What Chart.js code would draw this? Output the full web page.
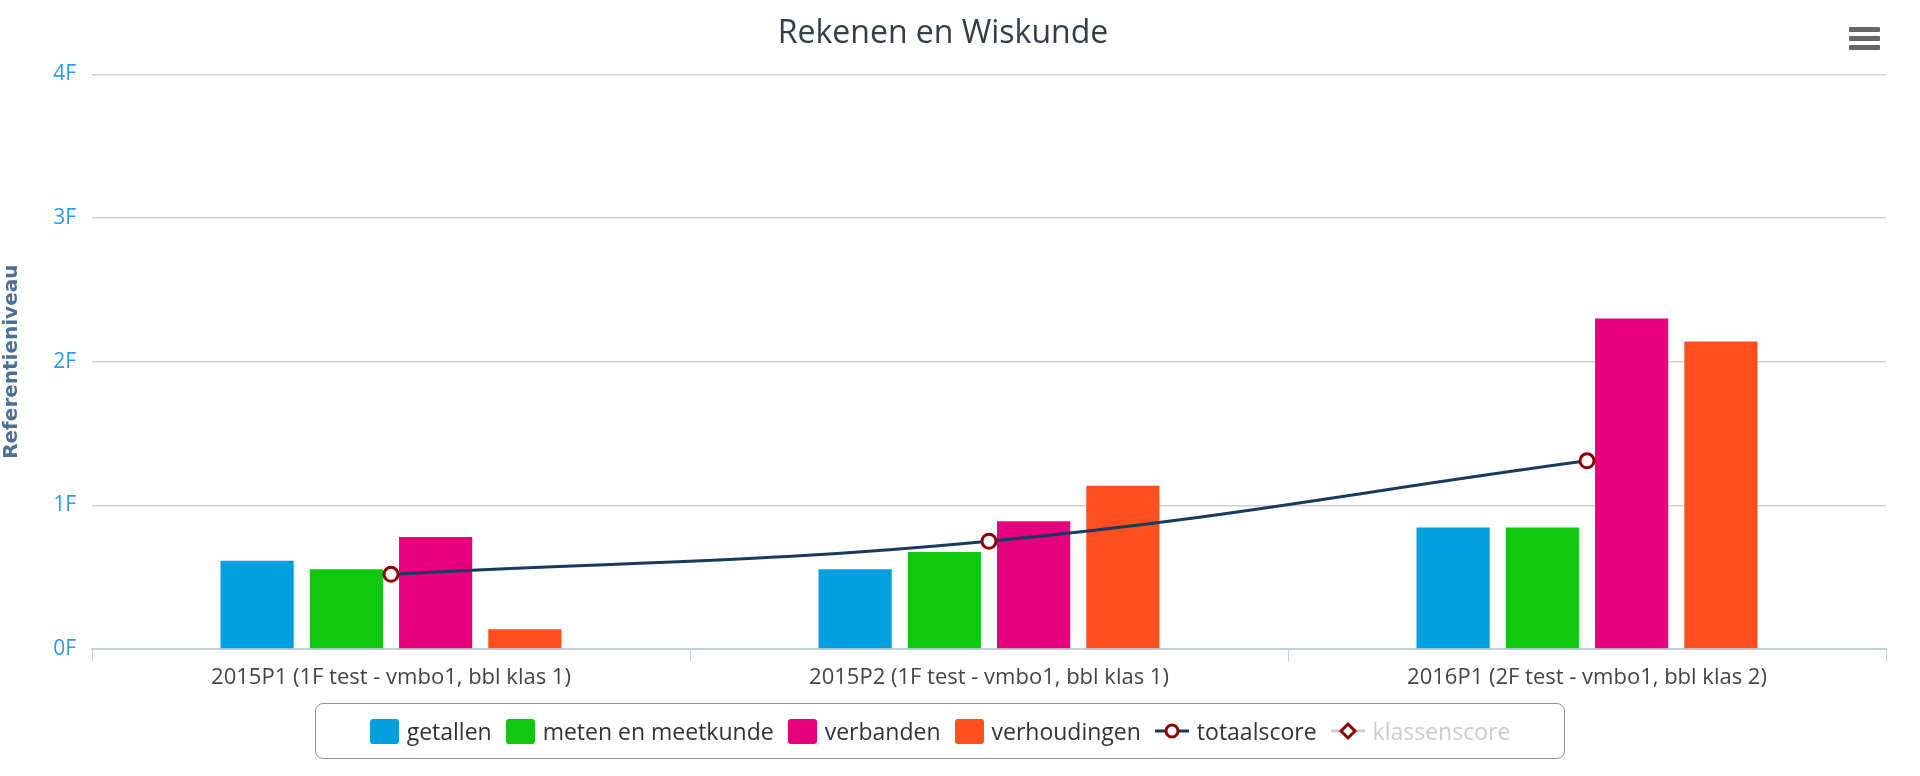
<!DOCTYPE html>
<html><head><meta charset="utf-8">
<script src="https://cdn.jsdelivr.net/npm/chart.js@4"></script>
<style>
body{margin:0;background:#fff;font-family:"Open Sans",sans-serif;}
#wrap{position:relative;width:1920px;height:776px;}
#legend{position:absolute;left:315px;top:703px;width:1250px;height:56px;box-sizing:border-box;border:1.5px solid #909090;border-radius:8px;display:flex;align-items:center;justify-content:center;gap:14px;font-size:23px;color:#333;}
.it{display:flex;align-items:center;gap:8px;}
.sq{width:29px;height:25px;border-radius:3px;display:inline-block;}
#menu{position:absolute;left:1849px;top:27px;width:31px;}
#menu div{height:5px;background:#666;margin-bottom:4px;border-radius:1px;}
</style></head><body>
<div id="wrap"><canvas id="c" width="1920" height="776"></canvas><div id="legend"></div>
<div id="menu"><div></div><div></div><div></div></div></div>
<script>
const categories=["2015P1 (1F test - vmbo1, bbl klas 1)","2015P2 (1F test - vmbo1, bbl klas 1)","2016P1 (2F test - vmbo1, bbl klas 2)"];
const getallen=[0.615,0.556,0.846];
const meten=[0.556,0.675,0.846];
const verbanden=[0.78,0.89,2.30];
const verhoudingen=[0.137,1.137,2.14];
const totaalscore=[0.52,0.75,1.31];
const klassenscore=[null,null,null];
const yTicks=["0F","1F","2F","3F","4F"];
const barColors=["#009fe0","#10c810","#e6007e","#ff4f1f"];
const barDs=[["getallen",getallen],["meten en meetkunde",meten],["verbanden",verbanden],["verhoudingen",verhoudingen]].map((d,i)=>({type:'bar',label:d[0],data:d[1],backgroundColor:barColors[i],categoryPercentage:0.597,barPercentage:0.82,order:2}));
const datasets=[...barDs,
{type:'line',label:'totaalscore',data:totaalscore,borderColor:'#173b5e',borderWidth:3,tension:0.4,pointRadius:7,pointBorderWidth:3,pointBorderColor:'#8b0000',pointBackgroundColor:'#fff',order:1},
{type:'line',label:'klassenscore',data:klassenscore,hidden:true,borderColor:'#8b0000',order:0}];
new Chart(document.getElementById('c'),{data:{labels:categories,datasets},
options:{responsive:false,animation:false,
layout:{padding:{left:0,right:34,top:0,bottom:0}},
plugins:{legend:{display:false},tooltip:{enabled:false},
title:{display:true,text:'Rekenen en Wiskunde',color:'#333e48',font:{family:'Open Sans',size:32,weight:'normal'},padding:{top:15,bottom:21}}},
scales:{
x:{afterFit:s=>{s.height=127;},grid:{offset:true,drawOnChartArea:false,tickLength:12,color:'#c0d0e0'},border:{color:'#c0d0e0',width:2},
ticks:{color:'#444',font:{family:'Open Sans',size:22},padding:4}},
y:{min:0,max:4,afterFit:s=>{s.width=92;},afterBuildTicks:s=>{s.ticks=yTicks.map((t,i)=>({value:i}));},
grid:{color:'#d0d0d0',lineWidth:1.5,drawTicks:false},border:{display:false},
ticks:{color:'#2b9be8',padding:16,font:{family:'Open Sans',size:21},callback:(v)=>yTicks[v]},
title:{display:true,text:'Referentieniveau',color:'#4d6f95',font:{family:'DejaVu Sans',size:20,weight:'bold'},padding:{top:0,bottom:0}}}}}});
const lg=document.getElementById('legend');
datasets.forEach(d=>{const e=document.createElement('div');e.className='it';
let sym;
if(d.type==='bar'){sym=`<span class="sq" style="background:${d.backgroundColor}"></span>`;}
else if(d.label==='totaalscore'){sym=`<svg width="34" height="20"><line x1="0" y1="10" x2="34" y2="10" stroke="#173b5e" stroke-width="3"/><circle cx="17" cy="10" r="6" fill="#fff" stroke="#8b0000" stroke-width="3"/></svg>`;}
else{sym=`<svg width="34" height="20"><line x1="0" y1="10" x2="34" y2="10" stroke="#ccc" stroke-width="3"/><path d="M17 3 L24 10 L17 17 L10 10 Z" fill="#fff" stroke="#8b0000" stroke-width="3"/></svg>`;}
e.innerHTML=sym+`<span style="color:${d.hidden?'#ccc':'#333'}">${d.label}</span>`;lg.appendChild(e);});
</script></body></html>
